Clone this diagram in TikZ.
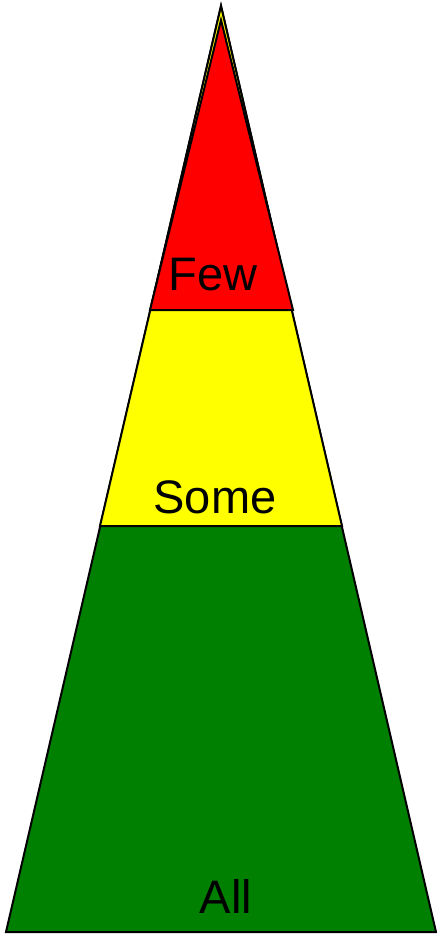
\documentclass[tikz,border=0pt]{standalone}
\usepackage{fontspec}
\setmainfont{Liberation Sans}
\usepackage{tikz}
\usetikzlibrary{calc}
\definecolor{levred}{RGB}{255,0,0}
\definecolor{levyellow}{RGB}{255,255,0}
\definecolor{levgreen}{RGB}{0,128,0}
\tikzset{
  layer/.style={
    draw=black,
    fill=#1,
    line width=1pt,
    line join=miter
  },
  lbl/.style={
    anchor=base,
    inner sep=0pt,
    font=\fontsize{23.5}{26}\selectfont
  }
}

\begin{document}
\begin{tikzpicture}[x=0.5pt, y=-0.5pt]
  \useasboundingbox (0,0) rectangle (437,936);
  % three stacked triangles, largest first
  \draw[layer=levgreen] (221,6) -- (436,932) -- (6,932) -- cycle;
  \draw[layer=levyellow] (221,6) -- (342,526) -- (100,526) -- cycle;
  \draw[layer=levred] (221,20) -- (293,310) -- (150,310) -- cycle;
  % labels
  \node[lbl] (few) at (213,290) {Few};
  \node[lbl] (some) at (215,513) {Some};
  \node[lbl] (all) at (226,913) {All};
\end{tikzpicture}
\end{document}
